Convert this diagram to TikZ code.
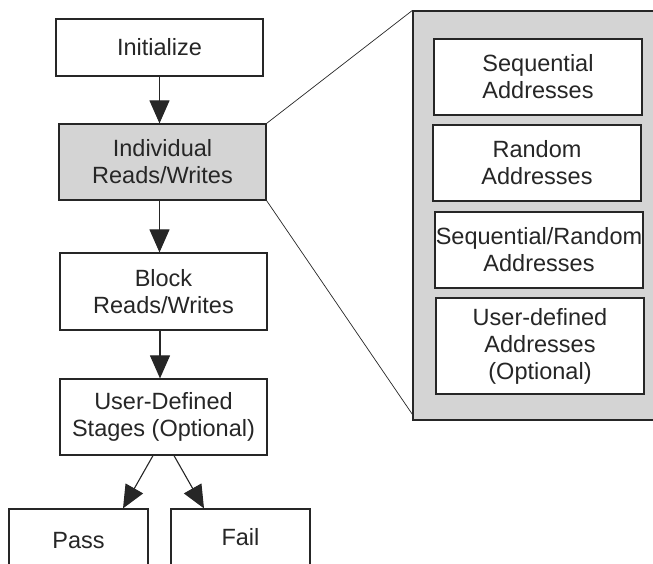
\documentclass[tikz,border=0pt]{standalone}
\usepackage{fontspec}
\setmainfont{Liberation Sans}
\usetikzlibrary{arrows.meta}
\definecolor{panelgray}{HTML}{D4D4D4}
\definecolor{ink}{HTML}{262626}
\tikzset{
  stagebox/.style={draw=ink, fill=white, line width=1.2pt, rectangle, align=center, inner sep=0pt,
    minimum width=207pt, text=ink, font=\fontsize{23.5}{27}\selectfont},
  flowarrow/.style={draw=ink, line width=1.1pt,
    -{Triangle[length=23pt,width=20pt]}},
  zoomline/.style={draw=ink, line width=0.7pt},
}
\begin{document}
\begin{tikzpicture}[x=1pt,y=-1pt]
\useasboundingbox (0,0) rectangle (653,563);
\clip (0,0) rectangle (653,563);

% expanded detail panel (runs off the right edge)
\node[draw=ink, fill=panelgray, line width=1.2pt, inner sep=0pt,
      minimum width=260pt, minimum height=409pt] (panel) at (543,215.5) {};
\coordinate (panelbl) at (413.5,416);

% main flow
\node[stagebox, minimum height=57pt] (init) at (159.5,47.5) {Initialize};
\node[stagebox, fill=panelgray, minimum height=76pt] (indiv) at (162.5,162) {Individual\\Reads/Writes};
\node[stagebox, minimum height=77pt] (block) at (163.5,291.5) {Block\\Reads/Writes};
\node[stagebox, minimum height=76pt] (user) at (163.5,417) {User-Defined\\Stages (Optional)};
\node[stagebox, minimum width=139pt, minimum height=64pt] (pass) at (78.5,541) {Pass};
\node[stagebox, minimum width=139pt, minimum height=56pt] (fail) at (240.5,537) {Fail};

% address modes inside the panel
\node[stagebox, minimum width=208pt, minimum height=76pt] (seq) at (538,77) {Sequential\\Addresses};
\node[stagebox, minimum width=208pt, minimum height=76pt] (rand) at (537,163) {Random\\Addresses};
\node[stagebox, minimum width=208pt, minimum height=76pt] (seqrand) at (539,250) {Sequential/Random\\Addresses};
\node[stagebox, minimum width=208pt, minimum height=96pt] (udef) at (540,346) {User-defined\\Addresses\\(Optional)};

% zoom lines from the highlighted stage to the panel
\draw[zoomline] (indiv.north east) -- (panel.north west);
\draw[zoomline] (indiv.south east) -- (panelbl);

% flow arrows
\draw[flowarrow] (init.south) -- (init.south |- indiv.north);
\draw[flowarrow] (init.south |- indiv.south) -- (init.south |- block.north);
\draw[flowarrow] ([xshift=0.5pt]init.south |- block.south) -- ([xshift=0.5pt]init.south |- user.north);
\draw[flowarrow] ([xshift=-10.5pt]user.south) -- ([xshift=44.5pt]pass.north);
\draw[flowarrow] ([xshift=10.5pt]user.south) -- ([xshift=-36.5pt]fail.north);
\end{tikzpicture}
\end{document}
